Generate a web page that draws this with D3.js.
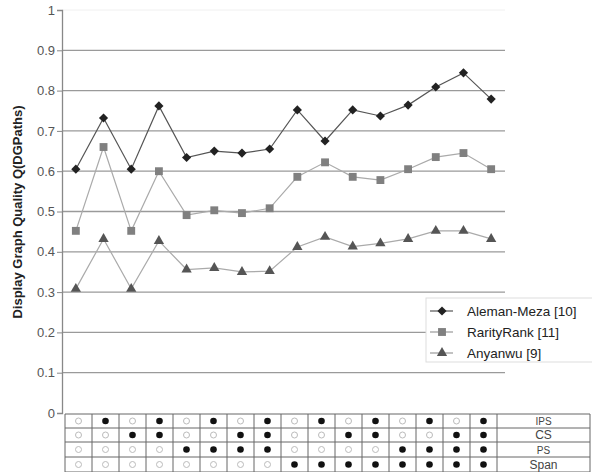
<!DOCTYPE html>
<html>
<head>
<meta charset="utf-8">
<script src="https://cdn.jsdelivr.net/npm/d3@7"></script>
<style>
  body { margin: 0; background: #fff; }
  svg { display: block; font-family: "Liberation Sans", Arial, sans-serif; }
</style>
</head>
<body>
<svg id="chart" width="592" height="472"></svg>
<script>
// data
const seriesNames = ['Aleman-Meza [10]', 'RarityRank [11]', 'Anyanwu [9]'];
const alemanMeza = [0.605, 0.732, 0.605, 0.762, 0.634, 0.650, 0.645, 0.655, 0.752, 0.675, 0.752, 0.737, 0.764, 0.809, 0.844, 0.779];
const rarityRank = [0.452, 0.660, 0.452, 0.600, 0.491, 0.503, 0.496, 0.508, 0.586, 0.622, 0.586, 0.578, 0.605, 0.635, 0.645, 0.605];
const anyanwu = [0.308, 0.432, 0.308, 0.427, 0.356, 0.360, 0.350, 0.352, 0.412, 0.437, 0.413, 0.421, 0.432, 0.452, 0.452, 0.432];
const yTicks = [0, 0.1, 0.2, 0.3, 0.4, 0.5, 0.6, 0.7, 0.8, 0.9, 1];
const rowLabels = ['IPS', 'CS', 'PS', 'Span'];
// 1 = filled dot, 0 = open circle
const flags = [
  [0,1,0,1,0,1,0,1,0,1,0,1,0,1,0,1],
  [0,0,1,1,0,0,1,1,0,0,1,1,0,0,1,1],
  [0,0,0,0,1,1,1,1,0,0,0,0,1,1,1,1],
  [0,0,0,0,0,0,0,0,1,1,1,1,1,1,1,1]
];

const svg = d3.select('#chart');
const idx = d3.range(alemanMeza.length);

const x = d3.scalePoint().domain(idx).range([62, 505]).padding(0.5);
const y = d3.scaleLinear().domain([0, 1]).range([413, 10]);

// gridlines
svg.append('g')
    .selectAll('line')
    .data(yTicks.filter(d => d > 0 && d < 1))
    .enter()
    .append('line')
    .attr('x1', 62).attr('x2', 505)
    .attr('y1', d => y(d)).attr('y2', d => y(d))
    .attr('stroke', '#9a9a9a')
    .attr('stroke-width', 1.3);

svg.append('line')
    .attr('x1', 62).attr('x2', 505)
    .attr('y1', y(1)).attr('y2', y(1))
    .attr('stroke', '#f0f0f0');

// y axis
const yAxis = svg.append('g')
    .attr('transform', 'translate(62,0)')
    .call(d3.axisLeft(y).tickValues(yTicks).tickSize(5).tickFormat(d => d === 0 || d === 1 ? d3.format('d')(d) : d3.format('.1f')(d)));
yAxis.select('.domain').attr('stroke', '#888').attr('stroke-width', 1.3);
yAxis.selectAll('.tick line').attr('stroke', '#888');
yAxis.selectAll('.tick text')
    .attr('fill', '#555')
    .style('font-size', '13px')
    .attr('x', -7);

svg.append('text')
    .attr('transform', 'translate(22,212) rotate(-90)')
    .attr('text-anchor', 'middle')
    .attr('fill', '#222')
    .style('font-size', '13px')
    .style('font-weight', 'bold')
    .text('Display Graph Quality Q(DGPaths)');

// series
const square = d3.symbol().type(d3.symbolSquare).size(62);
const triangle = d3.symbol().type(d3.symbolTriangle).size(46);
const diamond = d3.symbol().type(d3.symbolSquare).size(42);

const series = [
  { name: seriesNames[0], values: alemanMeza, line: '#555', fill: '#222', sym: diamond, rot: 45 },
  { name: seriesNames[1], values: rarityRank, line: '#aaa', fill: '#808080', sym: square, rot: 0 },
  { name: seriesNames[2], values: anyanwu, line: '#aaa', fill: '#555', sym: triangle, rot: 0 }
];

const line = d3.line().x((d, i) => x(i)).y(d => y(d));

series.forEach(s => {
  svg.append('path')
      .datum(s.values)
      .attr('d', line)
      .attr('fill', 'none')
      .attr('stroke', s.line)
      .attr('stroke-width', 1.2);
  svg.append('g')
      .selectAll('path')
      .data(s.values)
      .enter()
      .append('path')
      .attr('d', s.sym)
      .attr('transform', (d, i) => `translate(${x(i)},${y(d)}) rotate(${s.rot})`)
      .attr('fill', s.fill);
});

// legend
const legend = svg.append('g').attr('transform', 'translate(426,298)');
legend.append('rect')
    .attr('width', 170).attr('height', 64)
    .attr('fill', '#fff')
    .attr('stroke', '#ddd');
series.forEach((s, i) => {
  const g = legend.append('g').attr('transform', `translate(0,${13 + i * 21})`);
  g.append('line').attr('x1', 4).attr('x2', 27).attr('stroke', s.line === '#aaa' ? '#999' : '#555').attr('stroke-width', 1.2);
  g.append('path').attr('d', s.sym).attr('transform', `translate(16,0) rotate(${s.rot})`).attr('fill', s.fill);
  g.append('text')
      .attr('x', 41).attr('y', 5)
      .attr('fill', '#222')
      .style('font-size', '13.5px')
      .text(s.name);
});

// table of flags
const tx = d3.scaleBand().domain(idx).range([65, 497]);
const rowY = [414, 428, 442, 457, 472];
const table = svg.append('g');
const labelRight = 590;

rowY.forEach(v => {
  table.append('line')
      .attr('x1', 65).attr('x2', labelRight)
      .attr('y1', v).attr('y2', v)
      .attr('stroke', '#666').attr('stroke-width', 1);
});
idx.concat([idx.length]).forEach(i => {
  const xv = i < idx.length ? tx(i) : tx(idx.length - 1) + tx.bandwidth();
  table.append('line')
      .attr('x1', xv).attr('x2', xv)
      .attr('y1', 414).attr('y2', 472)
      .attr('stroke', '#666').attr('stroke-width', 1);
});
table.append('line')
    .attr('x1', labelRight).attr('x2', labelRight)
    .attr('y1', 414).attr('y2', 472)
    .attr('stroke', '#666');

flags.forEach((row, r) => {
  const cy = (rowY[r] + rowY[r + 1]) / 2;
  table.append('g')
      .selectAll('circle')
      .data(row)
      .enter()
      .append('circle')
      .attr('cx', (d, i) => tx(i) + tx.bandwidth() / 2)
      .attr('cy', cy)
      .attr('r', d => d ? 3.3 : 3)
      .attr('fill', d => d ? '#111' : 'none')
      .attr('stroke', d => d ? 'none' : '#bbb')
      .attr('stroke-width', 1);
  table.append('text')
      .attr('x', (497 + labelRight) / 2)
      .attr('y', cy + 4)
      .attr('text-anchor', 'middle')
      .attr('fill', '#444')
      .style('font-size', r === 0 || r === 2 ? '10px' : '12px')
      .text(rowLabels[r]);
});
</script>
</body>
</html>
